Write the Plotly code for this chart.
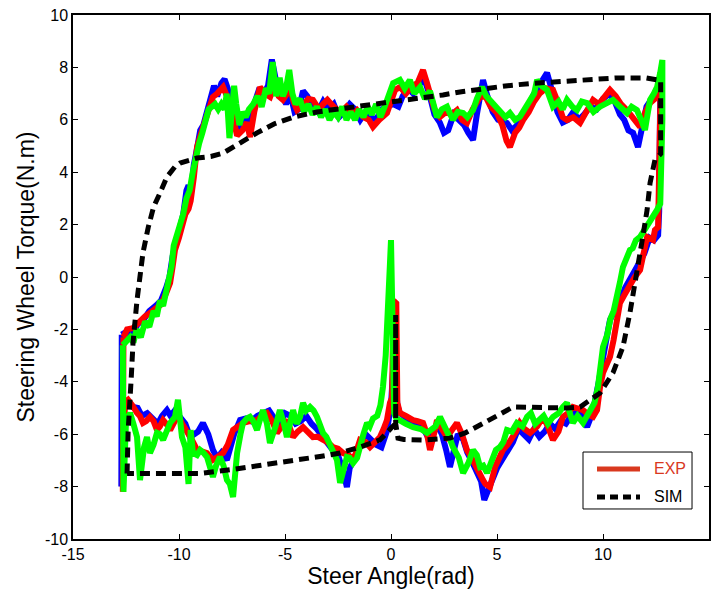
import plotly.graph_objects as go

# Measured steering-wheel torque loops (three runs) and simulated loop
red_x = [-12.62, -12.45, -12.17, -11.9, -11.6, -11.37, -11.1, -10.85, -10.6, -10.42, -10.3, -10.19, -10.0, -9.86, -9.7, -9.55, -9.45, -9.3, -9.15, -8.95, -8.87, -8.7, -8.54, -8.4, -8.2, -7.92, -7.74, -7.55, -7.4, -7.26, -7.0, -6.8, -6.65, -6.45, -6.18, -5.95, -5.7, -5.5, -5.3, -5.1, -4.9, -4.76, -4.6, -4.43, -4.1, -3.9, -3.68, -3.4, -3.2, -3.0, -2.7, -2.4, -2.1, -1.8, -1.6, -1.3, -1.05, -0.85, -0.55, -0.19, 0.19, 0.42, 0.7, 1.0, 1.25, 1.51, 1.7, 1.84, 2.05, 2.31, 2.6, 2.85, 3.11, 3.35, 3.58, 3.85, 4.0, 4.2, 4.45, 4.7, 5.0, 5.25, 5.45, 5.61, 5.85, 6.05, 6.23, 6.5, 6.75, 7.03, 7.3, 7.64, 7.9, 8.1, 8.3, 8.6, 8.92, 9.2, 9.53, 9.8, 10.05, 10.33, 10.6, 10.85, 11.13, 11.45, 11.75, 12.0, 12.22, 12.45, 12.6, 12.72, 12.7, 12.65, 12.6, 12.45, 12.36, 12.08, 11.9, 11.75, 11.5, 11.27, 11.0, 10.8, 10.66, 10.5, 10.33, 10.15, 10.0, 9.86, 9.72, 9.53, 9.3, 9.06, 8.8, 8.58, 8.35, 8.11, 7.9, 7.64, 7.4, 7.17, 6.9, 6.56, 6.3, 6.08, 5.9, 5.75, 5.5, 5.28, 5.1, 4.91, 4.67, 4.45, 4.34, 4.2, 4.06, 3.8, 3.58, 3.35, 3.11, 2.85, 2.64, 2.4, 2.17, 2.0, 1.84, 1.7, 1.51, 1.25, 1.04, 0.7, 0.42, 0.3, 0.28, 0.25, 0.12, 0.08, 0.05, -0.05, -0.19, -0.35, -0.52, -0.75, -0.99, -1.2, -1.46, -1.65, -1.79, -2.0, -2.26, -2.5, -2.74, -3.0, -3.21, -3.45, -3.68, -3.9, -4.15, -4.4, -4.62, -4.8, -4.91, -5.15, -5.38, -5.6, -5.85, -6.1, -6.32, -6.65, -6.98, -7.2, -7.45, -7.7, -7.92, -8.15, -8.4, -8.68, -8.9, -9.15, -9.4, -9.62, -9.85, -10.05, -10.25, -10.42, -10.6, -10.75, -10.9, -11.04, -11.2, -11.37, -11.55, -11.7, -11.85, -11.98, -12.2, -12.4, -12.55, -12.65, -12.62]
red_y = [-2.3, -2.0, -1.95, -1.7, -1.5, -1.37, -1.2, -1.05, -0.6, -0.23, 0.4, 1.03, 1.5, 1.9, 2.4, 2.6, 2.9, 3.8, 4.96, 5.5, 5.73, 6.2, 6.49, 6.87, 7.0, 7.25, 6.9, 6.5, 5.9, 5.4, 5.6, 5.9, 5.34, 6.3, 7.25, 7.0, 6.87, 7.3, 6.9, 6.76, 7.0, 7.25, 6.7, 6.37, 6.6, 6.8, 6.76, 6.4, 6.6, 6.76, 6.5, 6.26, 6.5, 6.2, 6.37, 6.1, 6.0, 5.73, 6.0, 6.26, 7.14, 7.25, 7.0, 7.3, 7.4, 7.9, 7.4, 7.02, 6.4, 6.11, 6.3, 6.2, 6.37, 6.0, 5.88, 6.4, 6.6, 6.87, 6.9, 6.5, 6.26, 5.8, 5.2, 4.96, 5.5, 5.7, 5.99, 6.3, 6.7, 7.02, 7.2, 7.14, 6.6, 6.1, 5.99, 6.1, 5.88, 6.3, 6.76, 6.6, 6.9, 7.14, 6.9, 6.6, 6.37, 6.0, 5.73, 6.3, 6.64, 6.8, 7.0, 7.3, 5.5, 3.5, 1.9, 1.79, 1.41, 1.53, 0.9, 0.27, 0.0, -0.38, -0.7, -0.99, -1.76, -2.4, -3.05, -3.4, -3.66, -4.2, -5.08, -5.34, -5.25, -5.08, -5.0, -4.96, -5.2, -5.34, -5.9, -6.22, -5.7, -5.34, -5.7, -5.95, -5.8, -5.57, -5.9, -6.11, -6.4, -6.6, -6.9, -7.25, -8.02, -7.9, -7.75, -7.5, -7.37, -6.9, -6.6, -6.0, -5.57, -5.9, -6.11, -5.8, -5.46, -6.1, -6.6, -6.0, -5.57, -5.5, -5.46, -5.3, -5.19, -4.8, -2.5, -1.0, -0.9, -2.5, -4.6, -4.8, -5.46, -5.8, -6.11, -6.3, -6.49, -6.3, -6.22, -6.7, -6.98, -6.8, -6.72, -6.55, -6.49, -6.3, -6.22, -6.1, -6.11, -5.9, -5.73, -5.9, -6.11, -5.7, -5.46, -5.7, -5.95, -5.5, -5.19, -5.3, -5.46, -5.5, -5.57, -5.7, -5.84, -6.4, -6.72, -6.85, -6.98, -6.72, -6.65, -6.6, -6.2, -5.95, -5.6, -5.27, -5.6, -5.84, -5.6, -5.46, -5.7, -5.84, -5.5, -5.34, -5.5, -5.57, -5.3, -5.19, -4.9, -4.69, -4.8, -8.2, -2.3]

blue_x = [-12.7, -12.5, -12.2, -11.95, -11.65, -11.4, -11.1, -10.85, -10.6, -10.45, -10.3, -10.15, -9.95, -9.8, -9.65, -9.55, -9.45, -9.3, -9.15, -9.0, -8.85, -8.7, -8.55, -8.35, -8.2, -8.0, -7.85, -7.7, -7.55, -7.4, -7.25, -7.05, -6.85, -6.7, -6.5, -6.25, -6.0, -5.8, -5.62, -5.45, -5.3, -5.1, -4.95, -4.75, -4.55, -4.35, -4.15, -3.95, -3.7, -3.45, -3.2, -2.95, -2.7, -2.45, -2.2, -1.95, -1.7, -1.45, -1.2, -0.95, -0.7, -0.45, -0.2, 0.1, 0.35, 0.55, 0.8, 1.05, 1.3, 1.55, 1.8, 2.05, 2.3, 2.5, 2.7, 2.95, 3.2, 3.45, 3.65, 3.87, 4.05, 4.34, 4.55, 4.8, 5.05, 5.3, 5.47, 5.7, 5.95, 6.2, 6.45, 6.75, 7.0, 7.36, 7.6, 7.85, 8.1, 8.35, 8.6, 8.85, 9.1, 9.4, 9.7, 10.0, 10.3, 10.55, 10.8, 11.0, 11.2, 11.42, 11.65, 11.85, 12.05, 12.3, 12.55, 12.7, 12.7, 12.65, 12.6, 12.4, 12.2, 11.95, 11.6, 11.3, 11.05, 10.85, 10.6, 10.45, 10.33, 10.2, 10.05, 9.95, 9.8, 9.65, 9.5, 9.25, 9.0, 8.75, 8.5, 8.25, 8.0, 7.75, 7.5, 7.25, 7.0, 6.75, 6.5, 6.25, 6.0, 5.75, 5.5, 5.25, 5.0, 4.75, 4.55, 4.4, 4.25, 4.05, 3.85, 3.6, 3.4, 3.15, 2.95, 2.78, 2.6, 2.4, 2.2, 2.0, 1.8, 1.6, 1.35, 1.1, 0.85, 0.6, 0.42, 0.3, 0.2, 0.1, 0.0, -0.2, -0.45, -0.7, -0.95, -1.2, -1.45, -1.7, -1.95, -2.08, -2.26, -2.5, -2.75, -3.0, -3.25, -3.5, -3.75, -4.0, -4.25, -4.5, -4.75, -5.0, -5.25, -5.5, -5.75, -6.0, -6.3, -6.6, -6.85, -7.12, -7.4, -7.74, -8.0, -8.2, -8.4, -8.62, -8.87, -9.1, -9.3, -9.48, -9.7, -9.95, -10.2, -10.4, -10.57, -10.8, -11.0, -11.25, -11.5, -11.75, -11.95, -12.17, -12.35, -12.6, -12.72, -12.7]
blue_y = [-2.2, -2.1, -2.2, -1.8, -1.6, -1.3, -1.1, -0.9, -0.4, 0.0, 0.8, 1.3, 2.0, 2.4, 3.3, 3.5, 3.1, 4.3, 4.9, 5.6, 5.8, 6.3, 6.6, 7.3, 6.9, 7.4, 7.55, 7.2, 6.4, 6.0, 5.6, 5.7, 6.1, 5.8, 6.5, 7.1, 7.0, 7.3, 8.3, 7.6, 7.2, 6.9, 6.6, 7.0, 6.3, 6.4, 7.1, 6.9, 6.5, 6.3, 6.7, 6.4, 6.6, 6.1, 6.3, 6.6, 6.4, 6.0, 6.3, 6.1, 6.0, 6.4, 6.5, 6.6, 6.5, 6.9, 7.2, 7.0, 7.3, 7.6, 7.0, 6.2, 5.9, 5.5, 5.6, 6.2, 6.0, 5.8, 5.5, 5.23, 6.2, 7.52, 6.9, 6.3, 6.0, 5.9, 5.88, 5.6, 5.8, 6.2, 6.5, 7.0, 7.3, 7.79, 7.1, 6.3, 5.9, 6.0, 6.3, 6.0, 6.2, 6.5, 6.4, 6.8, 7.0, 6.7, 6.2, 6.0, 5.6, 5.5, 4.96, 5.8, 6.5, 6.8, 6.87, 7.4, 5.0, 2.5, 1.6, 1.4, 1.5, 0.9, 0.38, 0.0, -0.4, -0.8, -1.2, -1.5, -1.64, -2.2, -3.0, -3.5, -4.0, -4.6, -5.2, -5.72, -5.3, -5.1, -5.3, -5.6, -5.5, -5.8, -5.6, -5.9, -6.1, -5.8, -6.2, -6.0, -5.8, -6.3, -6.6, -6.9, -7.3, -7.8, -8.2, -8.51, -7.8, -7.4, -7.1, -6.7, -6.2, -6.0, -6.8, -7.25, -6.6, -6.0, -5.7, -5.9, -6.2, -5.9, -5.7, -5.6, -5.5, -5.3, -5.2, -4.9, -3.6, -3.5, -4.9, -5.9, -6.5, -6.4, -6.2, -6.0, -6.3, -6.9, -7.3, -8.02, -7.4, -6.8, -6.6, -6.3, -6.0, -5.8, -5.6, -5.3, -5.5, -5.6, -5.3, -5.2, -5.6, -5.4, -5.1, -5.2, -5.3, -5.5, -5.4, -5.46, -6.0, -6.98, -6.7, -6.9, -6.6, -6.0, -5.57, -5.9, -6.0, -6.11, -5.6, -5.3, -5.1, -5.3, -5.08, -5.3, -5.6, -5.4, -5.2, -5.3, -5.0, -4.96, -4.8, -5.0, -8.0, -2.2]

green_x = [-12.65, -12.5, -12.3, -12.15, -12.0, -11.8, -11.6, -11.4, -11.2, -11.05, -10.9, -10.75, -10.6, -10.45, -10.35, -10.25, -10.1, -9.95, -9.8, -9.65, -9.5, -9.35, -9.2, -9.05, -8.9, -8.75, -8.6, -8.45, -8.3, -8.15, -8.0, -7.85, -7.75, -7.62, -7.5, -7.4, -7.3, -7.15, -7.0, -6.85, -6.7, -6.5, -6.3, -6.1, -5.9, -5.75, -5.58, -5.42, -5.25, -5.1, -4.95, -4.8, -4.65, -4.5, -4.3, -4.1, -3.9, -3.7, -3.5, -3.3, -3.1, -2.9, -2.7, -2.5, -2.3, -2.1, -1.9, -1.7, -1.5, -1.3, -1.1, -0.9, -0.7, -0.5, -0.3, -0.1, 0.1, 0.42, 0.65, 0.89, 1.1, 1.37, 1.6, 1.84, 2.0, 2.17, 2.4, 2.64, 2.8, 2.92, 3.15, 3.4, 3.6, 3.87, 4.05, 4.29, 4.5, 4.67, 4.9, 5.14, 5.4, 5.61, 5.85, 6.08, 6.3, 6.56, 6.75, 6.89, 7.1, 7.36, 7.5, 7.64, 7.9, 8.1, 8.3, 8.55, 8.77, 9.0, 9.25, 9.55, 9.86, 10.15, 10.47, 10.8, 11.13, 11.35, 11.6, 11.8, 11.98, 12.1, 12.22, 12.4, 12.55, 12.7, 12.8, 12.8, 12.75, 12.7, 12.55, 12.35, 12.2, 12.0, 11.75, 11.55, 11.4, 11.27, 11.1, 10.94, 10.8, 10.66, 10.5, 10.35, 10.2, 10.0, 9.9, 9.76, 9.6, 9.39, 9.2, 9.06, 8.8, 8.58, 8.4, 8.3, 8.11, 7.9, 7.64, 7.4, 7.2, 7.03, 6.8, 6.6, 6.42, 6.2, 5.94, 5.7, 5.47, 5.3, 5.14, 4.95, 4.81, 4.65, 4.53, 4.35, 4.2, 4.05, 3.87, 3.65, 3.4, 3.2, 2.92, 2.7, 2.5, 2.31, 2.1, 1.9, 1.7, 1.4, 1.04, 0.7, 0.4, 0.25, 0.15, 0.1, 0.06, 0.0, -0.05, -0.14, -0.25, -0.38, -0.5, -0.65, -0.85, -1.0, -1.13, -1.3, -1.46, -1.6, -1.79, -1.95, -2.08, -2.25, -2.4, -2.55, -2.7, -2.88, -3.05, -3.21, -3.35, -3.49, -3.65, -3.82, -4.0, -4.15, -4.29, -4.45, -4.62, -4.75, -4.91, -5.05, -5.24, -5.45, -5.71, -5.85, -6.04, -6.2, -6.32, -6.5, -6.65, -6.8, -6.98, -7.1, -7.26, -7.45, -7.6, -7.74, -7.9, -8.07, -8.25, -8.4, -8.55, -8.68, -8.85, -9.0, -9.15, -9.34, -9.45, -9.55, -9.7, -9.86, -10.05, -10.19, -10.42, -10.6, -10.75, -10.9, -11.04, -11.2, -11.37, -11.51, -11.65, -11.84, -11.98, -12.15, -12.31, -12.5, -12.62, -12.65]
green_y = [-2.6, -2.5, -2.3, -2.5, -2.0, -2.3, -1.7, -1.9, -1.3, -1.5, -0.9, -1.1, -0.5, 0.0, 0.4, 1.2, 1.6, 1.9, 2.4, 3.0, 3.3, 4.0, 4.6, 5.1, 5.5, 6.0, 6.4, 6.5, 6.6, 6.4, 6.6, 6.4, 7.0, 5.3, 6.8, 7.3, 6.6, 5.8, 6.3, 6.1, 6.4, 6.6, 6.9, 6.5, 7.2, 7.0, 8.2, 6.9, 7.6, 6.9, 7.2, 7.9, 7.0, 6.6, 6.8, 6.3, 6.6, 6.2, 6.5, 6.1, 6.4, 6.0, 6.3, 6.1, 6.5, 6.0, 6.3, 6.0, 6.4, 6.1, 6.5, 6.2, 6.6, 6.1, 6.5, 7.0, 7.4, 7.52, 7.2, 7.52, 7.0, 7.25, 6.8, 7.1, 6.5, 6.1, 6.4, 6.5, 6.2, 6.0, 6.3, 6.26, 6.1, 6.37, 6.8, 7.25, 6.9, 6.76, 6.5, 6.37, 6.1, 6.26, 6.0, 6.11, 6.4, 6.76, 7.0, 7.52, 7.3, 7.14, 6.8, 6.5, 6.7, 6.4, 6.76, 6.5, 6.37, 6.7, 6.64, 6.3, 6.5, 6.6, 6.76, 6.5, 6.26, 6.5, 6.37, 6.0, 5.61, 6.2, 6.76, 7.0, 7.25, 7.8, 8.28, 6.0, 4.0, 2.8, 2.56, 2.3, 2.06, 1.8, 1.53, 1.4, 1.1, 1.03, 0.7, 0.38, -0.2, -0.76, -1.3, -1.6, -2.2, -2.67, -3.5, -4.2, -4.8, -5.08, -5.4, -5.57, -5.3, -5.57, -5.1, -4.8, -4.96, -5.2, -5.34, -5.6, -5.3, -5.46, -5.6, -5.2, -5.34, -5.7, -5.57, -5.9, -5.84, -6.3, -6.49, -6.6, -6.87, -7.3, -7.48, -7.2, -7.25, -6.8, -6.6, -7.1, -7.48, -6.9, -6.49, -6.0, -5.6, -5.34, -5.7, -5.8, -5.95, -5.8, -5.73, -5.6, -5.5, -5.4, -5.2, -3.0, -0.9, 1.41, 0.5, -1.5, -3.0, -4.2, -4.9, -5.3, -5.4, -5.7, -5.57, -6.0, -6.6, -6.9, -7.1, -6.9, -6.87, -7.3, -7.86, -6.98, -6.7, -6.34, -6.1, -5.95, -5.6, -5.34, -5.1, -4.96, -5.1, -4.8, -5.34, -5.6, -5.08, -5.5, -6.11, -5.6, -5.08, -5.7, -6.34, -5.6, -5.08, -5.5, -5.84, -5.5, -5.34, -5.4, -5.57, -6.0, -6.72, -8.4, -7.9, -7.75, -7.2, -6.87, -7.2, -7.63, -7.1, -6.87, -6.7, -6.6, -6.8, -6.72, -5.84, -7.9, -6.5, -6.11, -4.69, -5.34, -5.57, -5.9, -6.22, -6.0, -5.95, -6.4, -6.72, -6.11, -6.5, -7.75, -6.11, -5.6, -5.19, -5.5, -8.2, -2.6]

sim_x = [-12.45, -12.4, -12.25, -12.17, -11.98, -11.7, -11.45, -11.2, -10.9, -10.57, -10.2, -9.95, -9.15, -8.5, -7.92, -7.2, -6.32, -5.5, -4.62, -3.5, -2.08, -1.0, 0.28, 1.5, 2.45, 3.4, 4.34, 5.5, 6.5, 7.5, 9.0, 10.66, 12.0, 12.72, 12.72, 12.45, 12.22, 12.08, 11.89, 11.6, 11.27, 10.94, 10.47, 9.86, 8.92, 8.3, 7.0, 5.75, 5.0, 4.34, 3.5, 2.78, 1.51, 0.6, 0.33, 0.22, 0.22, 0.22, 0.05, -0.52, -1.46, -2.4, -3.35, -4.5, -6.2, -7.5, -9.0, -11.0, -12.45]
sim_y = [-7.5, -5.9, -3.8, -2.52, -0.88, 0.92, 1.9, 2.67, 3.2, 3.82, 4.2, 4.35, 4.54, 4.6, 4.73, 5.1, 5.5, 5.85, 6.1, 6.3, 6.45, 6.55, 6.68, 6.85, 6.95, 7.08, 7.2, 7.3, 7.38, 7.44, 7.52, 7.6, 7.6, 7.5, 4.7, 4.47, 3.59, 2.56, 1.6, 0.15, -1.37, -2.67, -3.66, -4.43, -4.96, -5.0, -5.0, -4.96, -5.3, -5.57, -5.95, -6.15, -6.22, -6.2, -6.15, -5.6, -1.45, -5.6, -5.73, -6.22, -6.49, -6.72, -6.85, -7.0, -7.18, -7.35, -7.5, -7.52, -7.5]

x_ticks = [-15, -10, -5, 0, 5, 10, 15]
y_ticks = [-10, -8, -6, -4, -2, 0, 2, 4, 6, 8, 10]
legend_labels = ["EXP", "SIM"]

FONT = "Liberation Sans, Arial, sans-serif"
EXP_COLOR = "#d9381e"

fig = go.Figure()

for xs, ys, col in [(blue_x, blue_y, "#0000ff"),
                    (red_x, red_y, "#ff0000"),
                    (green_x, green_y, "#00ff00")]:
    fig.add_trace(go.Scatter(x=xs, y=ys, mode="lines", showlegend=False,
                             line=dict(color=col, width=6), hoverinfo="skip"))

fig.add_trace(go.Scatter(x=sim_x, y=sim_y, mode="lines", showlegend=False,
                         line=dict(color="black", width=5, dash="10px,6px"),
                         hoverinfo="skip"))

axis_common = dict(
    showline=True, linecolor="black", linewidth=1.5, mirror="allticks",
    ticks="inside", ticklen=5, tickwidth=1, tickcolor="black",
    showgrid=False, zeroline=False,
    tickfont=dict(family=FONT, size=16, color="black"),
)

fig.update_xaxes(range=[-15, 15], tickvals=x_ticks,
                 ticktext=[str(v) for v in x_ticks],
                 title=dict(text="Steer Angle(rad)", standoff=6,
                            font=dict(family=FONT, size=23, color="black")),
                 **axis_common)
fig.update_yaxes(range=[-10, 10], tickvals=y_ticks,
                 ticktext=[str(v) for v in y_ticks],
                 title=dict(text="Steering Wheel Torque(N.m)", standoff=4,
                            font=dict(family=FONT, size=23, color="black")),
                 **axis_common)

# boxed legend in the lower-right corner of the axes
lx0, lx1 = 0.8019, 0.9733
ly0, ly1 = 0.0573, 0.166
row_y = [0.1336, 0.0802]
sample_x0, sample_x1, text_x = 0.8239, 0.8915, 0.9104
fig.add_shape(type="rect", xref="paper", yref="paper",
              x0=lx0, x1=lx1, y0=ly0, y1=ly1,
              line=dict(color="black", width=1), fillcolor="white", layer="above")
fig.add_shape(type="line", xref="paper", yref="paper",
              x0=sample_x0, x1=sample_x1, y0=row_y[0], y1=row_y[0],
              line=dict(color=EXP_COLOR, width=5), layer="above")
fig.add_shape(type="line", xref="paper", yref="paper",
              x0=sample_x0, x1=sample_x1, y0=row_y[1], y1=row_y[1],
              line=dict(color="black", width=5, dash="8px,5px"), layer="above")
for lbl, yy, col in zip(legend_labels, row_y, [EXP_COLOR, "black"]):
    fig.add_annotation(xref="paper", yref="paper", x=text_x, y=yy,
                       xanchor="left", yanchor="middle", showarrow=False,
                       text=lbl, font=dict(family=FONT, size=16, color=col))

fig.update_layout(
    width=715, height=593,
    margin=dict(l=73, r=6, t=15, b=54, autoexpand=False),
    plot_bgcolor="white", paper_bgcolor="white",
    font=dict(family=FONT, color="black"),
    showlegend=False,
)

fig.write_html("out.html")
